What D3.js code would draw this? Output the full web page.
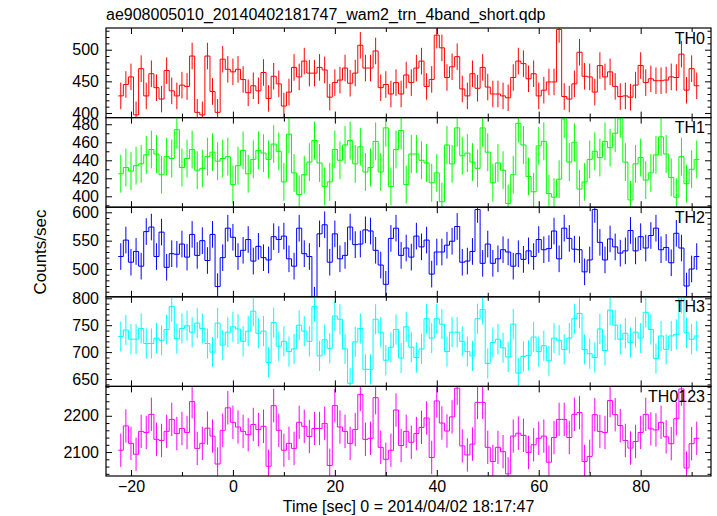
<!DOCTYPE html>
<html><head><meta charset="utf-8">
<script src="https://cdn.jsdelivr.net/npm/d3@7"></script>
<style>
body{margin:0;background:#fff}
text{font-family:"Liberation Sans",Arial,Helvetica,sans-serif;fill:#000}
</style>
</head><body>
<svg id="chart" width="717" height="516"></svg>
<script>
// ---- data ----
const titleText = "ae908005010_20140402181747_wam2_trn_4band_short.qdp";
const xLabelText = "Time [sec] 0 = 2014/04/02 18:17:47";
const yLabelText = "Counts/sec";
const firstBinCenter = -22;   // seconds
const binWidth = 1;           // seconds
const xTickValues = [-20, 0, 20, 40, 60, 80];
const xMinorTicks = [-10, 10, 30, 50, 70, 90];

const th0 = [427,445,457,397,470,427,462,440,422,467, 435,427,444,442,490,401,397,490,434,401,
  485,469,465,469,453,432,443,435,464,423, 458,446,411,433,472,457,482,463,463,472,
  468,425,448,452,471,447,463,507,471,471, 498,440,445,430,448,430,
  460,448,471,482,442,453,523,503,456,473, 489,438,427,462,439,472,441,430,430,427,
  424,456,482,478,454,462,427,436,449,449, 532,426,422,446,496,458,457,433,475,457,
  465,442,426,427,425,444,475,448,454,451, 451,452,457,456,493,436,470,443];
const th1 = [425,432,428,434,436,446,452,447,424,444, 442,474,432,442,452,429,431,444,449,439,
  442,444,413,434,451,425,441,451,448,441, 458,450,416,469,426,402,424,438,462,437,
  411,416,452,440,457,462,436,455,427,432, 461,427,476,411,452,473,413,
  447,447,440,437,415,426,394,457,436,476, 445,448,438,431,476,449,415,437,429,392,
  424,481,457,422,405,456,461,403,399,419, 486,438,460,408,416,441,450,443,461,454,
  470,486,438,396,436,443,418,426,446,466, 447,421,399,444,414,430,441];
const th2 = [522,551,512,531,505,566,574,522,565,503, 527,526,544,521,561,524,550,515,561,469,
  520,572,556,522,533,552,514,540,520,516, 557,552,558,518,505,572,527,522,445,562,
  578,512,562,518,524,574,543,544,569,567, 533,507,473,554,572,524,537,
  521,558,539,551,491,530,530,542,549,575, 512,514,531,605,510,544,510,518,534,530,
  505,527,517,532,522,552,534,536,567,518, 572,554,535,534,495,516,605,547,516,553,
  539,528,532,568,532,557,537,559,572,534, 538,511,563,537,470,500,522];
const th3 = [729,741,724,724,744,716,716,726,722,742, 785,725,744,749,737,754,744,716,700,754,
  713,737,747,743,720,739,776,735,739,681, 755,711,720,701,706,750,739,720,785,693,
  723,707,767,761,706,642,719,744,668,668, 761,737,685,709,742,689,747,
  709,690,706,762,726,762,752,701,737,737, 720,701,693,762,779,679,718,724,708,691,
  752,661,692,694,728,701,712,684,726,722, 705,726,762,772,705,697,690,743,703,778,
  750,724,735,718,737,726,774,742,688,730, 705,730,733,801,736,724,730];
const th0123 = [2105,2172,2124,2094,2157,2154,2204,2135,2132,2157, 2190,2151,2165,2154,2239,2110,2124,2166,2144,2067,
  2160,2222,2182,2169,2157,2148,2176,2162,2171,2061, 2228,2160,2105,2124,2110,2182,2171,2143,2165,2165,
  2179,2063,2228,2169,2157,2124,2162,2259,2135,2138, 2250,2113,2080,2105,2216,2118,2157,
  2127,2151,2168,2194,2085,2241,2180,2158,2197,2276, 2117,2092,2122,2237,2237,2113,2074,2113,2101,2040,
  2144,2152,2146,2099,2120,2138,2144,2072,2140,2190, 2190,2140,2204,2209,2074,2088,2203,2157,2154,2242,
  2203,2173,2132,2111,2129,2154,2204,2164,2161,2182, 2142,2123,2192,2274,2056,2123,2138];

const seriesNames  = ["TH0", "TH1", "TH2", "TH3", "TH0123"];
const seriesValues = [th0, th1, th2, th3, th0123];
const seriesErrors = [21, 21, 23.5, 28, 46];
const seriesColors = ["#ff0000", "#00ff00", "#0000ff", "#00ffff", "#ff00ff"];
const yDomains = [[392.7, 534.3], [387.9, 487.4], [451, 609], [636.3, 802.8], [2034, 2281]];
const yMajorStep = [50, 20, 50, 50, 100];
const yMinorStep = [10, 10, 10, 10, 20];

// ---- layout ----
const plotL = 106, plotR = 711, plotT = 28, plotB = 476;
const panelH = (plotB - plotT) / seriesNames.length;

const svg = d3.select("#chart");
const x = d3.scaleLinear().domain([-24.9, 93.8]).range([plotL, plotR]);

svg.append("text").attr("x", plotL).attr("y", 20).attr("font-size", 16).text(titleText);

seriesNames.forEach((name, k) => {
  const y0 = plotT + k * panelH, y1 = y0 + panelH;
  const y = d3.scaleLinear().domain(yDomains[k]).range([y1, y0]);
  const vals = seriesValues[k];
  const err = seriesErrors[k];
  const color = seriesColors[k];
  const data = vals.map((v, i) => ({t: firstBinCenter + i * binWidth, v}));

  const clipId = "clip" + k;
  svg.append("clipPath").attr("id", clipId).append("rect")
    .attr("x", plotL).attr("y", y0).attr("width", plotR - plotL).attr("height", panelH);
  const g = svg.append("g").attr("clip-path", `url(#${clipId})`);

  // error bars
  g.selectAll("line.err").data(data).join("line").attr("class", "err")
    .attr("x1", d => x(d.t)).attr("x2", d => x(d.t))
    .attr("y1", d => y(d.v - err)).attr("y2", d => y(d.v + err))
    .attr("stroke", color).attr("stroke-width", 1);

  // step histogram
  const pts = [];
  data.forEach(d => { pts.push([d.t - binWidth / 2, d.v]); pts.push([d.t + binWidth / 2, d.v]); });
  const line = d3.line().x(p => x(p[0])).y(p => y(p[1]));
  g.append("path").attr("d", line(pts)).attr("fill", "none")
    .attr("stroke", color).attr("stroke-width", 1);

  // y ticks
  const [lo, hi] = yDomains[k];
  const majors = d3.range(Math.ceil(lo / yMajorStep[k]) * yMajorStep[k], hi, yMajorStep[k]);
  const minors = d3.range(Math.ceil(lo / yMinorStep[k]) * yMinorStep[k], hi, yMinorStep[k])
    .filter(v => v % yMajorStep[k] !== 0);
  const axL = svg.append("g").attr("transform", `translate(${plotL},0)`)
    .call(d3.axisLeft(y).tickValues(majors).tickSize(-6).tickPadding(7).tickFormat(d3.format("d")));
  axL.select(".domain").remove();
  axL.selectAll("text").attr("font-size", 16).attr("font-family", null).attr("fill", "#000");
  axL.selectAll("line").attr("stroke", "#000");
  const axLm = svg.append("g").attr("transform", `translate(${plotL},0)`)
    .call(d3.axisLeft(y).tickValues(minors).tickSize(-3.5).tickFormat(""));
  axLm.select(".domain").remove();
  const axR = svg.append("g").attr("transform", `translate(${plotR},0)`)
    .call(d3.axisRight(y).tickValues(majors).tickSize(-6).tickFormat(""));
  axR.select(".domain").remove();
  const axRm = svg.append("g").attr("transform", `translate(${plotR},0)`)
    .call(d3.axisRight(y).tickValues(minors).tickSize(-3.5).tickFormat(""));
  axRm.select(".domain").remove();

  // x ticks top and bottom of each panel
  [[y0, d3.axisTop], [y1, d3.axisBottom]].forEach(([yy, ax]) => {
    const a = svg.append("g").attr("transform", `translate(0,${yy})`)
      .call(ax(x).tickValues(xTickValues).tickSize(-6).tickFormat(""));
    a.select(".domain").remove();
    const b = svg.append("g").attr("transform", `translate(0,${yy})`)
      .call(ax(x).tickValues(xMinorTicks).tickSize(-4).tickFormat(""));
    b.select(".domain").remove();
  });

  // frame
  svg.append("rect").attr("x", plotL).attr("y", y0).attr("width", plotR - plotL).attr("height", panelH)
    .attr("fill", "none").attr("stroke", "#000").attr("stroke-width", 1.2);

  // panel label
  svg.append("text").attr("x", 705).attr("y", y0 + 15.5).attr("text-anchor", "end")
    .attr("font-size", 16).text(name);
});

// bottom tick labels
const axB = svg.append("g").attr("transform", `translate(0,${plotB})`)
  .call(d3.axisBottom(x).tickValues(xTickValues).tickSize(0).tickPadding(5).tickFormat(d => d < 0 ? "\u2212" + Math.abs(d) : d));
axB.select(".domain").remove();
axB.selectAll("text").attr("font-size", 16).attr("font-family", null).attr("fill", "#000");

svg.append("text").attr("x", (plotL + plotR) / 2).attr("y", 512).attr("text-anchor", "middle")
  .attr("font-size", 16).text(xLabelText);
svg.append("text").attr("transform", "translate(46,252) rotate(-90)").attr("text-anchor", "middle")
  .attr("font-size", 17).text(yLabelText);
</script>
</body></html>
